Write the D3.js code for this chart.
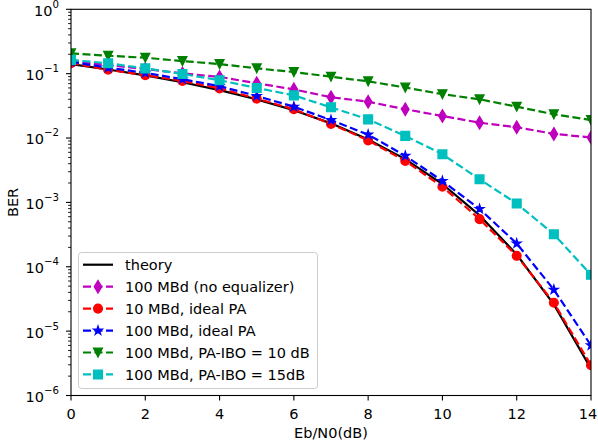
<!DOCTYPE html>
<html>
<head>
<meta charset="utf-8">
<script src="https://cdn.jsdelivr.net/npm/d3@7"></script>
<style>
  html, body { margin: 0; padding: 0; background: #fff; }
  svg { display: block; font-family: "DejaVu Sans", sans-serif; }
  .tick-label { font-size: 14.5px; fill: #000; }
  .axis-title { font-size: 14.5px; fill: #000; }
  .legend-label { font-size: 14.5px; fill: #000; }
</style>
</head>
<body>
<svg id="chart" width="598" height="446"></svg>
<script>
// Eb/N0 points (dB)
const ebn0 = [0, 1, 2, 3, 4, 5, 6, 7, 8, 9, 10, 11, 12, 13, 14];

// BER curves
const theory = [0.141, 0.116, 0.094, 0.0735, 0.0556, 0.0399, 0.0270, 0.0169, 0.0095, 0.0047, 0.00193, 6.3e-4, 1.55e-4, 2.6e-5, 2.6e-6];
const noEqualizer = [0.156, 0.136, 0.118, 0.101, 0.089, 0.071, 0.057, 0.043, 0.0367, 0.028, 0.022, 0.0173, 0.0147, 0.0116, 0.0102];
const idealPa10 = [0.146, 0.115, 0.095, 0.077, 0.059, 0.041, 0.028, 0.0166, 0.0092, 0.0044, 0.00175, 5.5e-4, 1.48e-4, 2.76e-5, 2.95e-6];
const idealPa100 = [0.153, 0.124, 0.103, 0.082, 0.064, 0.045, 0.0307, 0.019, 0.0113, 0.0053, 0.00215, 7.9e-4, 2.3e-4, 4.4e-5, 6.0e-6];
const ibo10 = [0.207, 0.19, 0.177, 0.157, 0.141, 0.121, 0.106, 0.0897, 0.076, 0.061, 0.048, 0.04, 0.0307, 0.0234, 0.019];
const ibo15 = [0.163, 0.145, 0.121, 0.099, 0.079, 0.06, 0.046, 0.030, 0.0195, 0.0108, 0.0056, 0.00229, 9.6e-4, 3.2e-4, 7.5e-5];

const xTicks = [0, 2, 4, 6, 8, 10, 12, 14];
const yDecades = [-6, -5, -4, -3, -2, -1, 0];

const series = [
  { name: 'theory', values: theory, color: '#000000', dashed: false, marker: null },
  { name: '100 MBd (no equalizer)', values: noEqualizer, color: '#bf00bf', dashed: true, marker: 'diamond' },
  { name: '10 MBd, ideal PA', values: idealPa10, color: '#ff0000', dashed: true, marker: 'circle' },
  { name: '100 MBd, ideal PA', values: idealPa100, color: '#0000ff', dashed: true, marker: 'star' },
  { name: '100 MBd, PA-IBO = 10 dB', values: ibo10, color: '#008000', dashed: true, marker: 'triangleDown' },
  { name: '100 MBd, PA-IBO = 15dB', values: ibo15, color: '#00bfbf', dashed: true, marker: 'square' },
];

const margin = { left: 71, right: 7, top: 9.3, bottom: 50.5 };
const W = 598, H = 446;
const plotW = W - margin.left - margin.right;
const plotH = H - margin.top - margin.bottom;

const LINE_W = 2.2;
const DASH = '8,3.5';
const EDGE_W = 1.4;

const svg = d3.select('#chart');

const x = d3.scaleLinear().domain([0, 14]).range([margin.left, margin.left + plotW]);
const y = d3.scaleLog().domain([1e-6, 1]).range([margin.top + plotH, margin.top]);

/** Marker path in pixel units centred on 0,0. */
function markerPath(type) {
  switch (type) {
    case 'circle':
      return d3.symbol(d3.symbolCircle, Math.PI * 4.35 * 4.35)();
    case 'square':
      return 'M-4.35,-4.35H4.35V4.35H-4.35Z';
    case 'diamond':
      return 'M0,-6.15L3.7,0L0,6.15L-3.7,0Z';
    case 'triangleDown':
      return 'M0,4.35L-4.35,-4.35L4.35,-4.35Z';
    case 'star':
      return d3.symbol(d3.symbolStar, 21.5)();
    default:
      return '';
  }
}

// clip to the axes
svg.append('defs').append('clipPath').attr('id', 'plot-clip')
  .append('rect')
  .attr('x', margin.left).attr('y', margin.top)
  .attr('width', plotW).attr('height', plotH);

// Curves
const line = d3.line()
  .x((d, i) => x(ebn0[i]))
  .y((d) => y(d));

const curves = svg.append('g').attr('clip-path', 'url(#plot-clip)');

series.forEach((s) => {
  curves.append('path')
    .attr('d', line(s.values))
    .attr('fill', 'none')
    .attr('stroke', s.color)
    .attr('stroke-width', LINE_W)
    .attr('stroke-dasharray', s.dashed ? DASH : null);

  if (s.marker) {
    curves.append('g')
      .selectAll('path')
      .data(s.values)
      .join('path')
      .attr('d', markerPath(s.marker))
      .attr('transform', (d, i) => `translate(${x(ebn0[i])},${y(d)})`)
      .attr('fill', s.color)
      .attr('stroke', s.color)
      .attr('stroke-width', EDGE_W);
  }
});

// Spines
svg.append('rect')
  .attr('x', margin.left).attr('y', margin.top)
  .attr('width', plotW).attr('height', plotH)
  .attr('fill', 'none')
  .attr('stroke', '#000')
  .attr('stroke-width', 1.1);

// X axis
const xAxis = svg.append('g');
xTicks.forEach((t) => {
  xAxis.append('line')
    .attr('x1', x(t)).attr('x2', x(t))
    .attr('y1', margin.top + plotH).attr('y2', margin.top + plotH + 5)
    .attr('stroke', '#000').attr('stroke-width', 1.1);
  // keep the last label inside the window
  xAxis.append('text')
    .attr('class', 'tick-label')
    .attr('x', Math.min(x(t), W - 10))
    .attr('y', margin.top + plotH + 23)
    .attr('text-anchor', 'middle')
    .text(t);
});

// Y axis (log, with minor ticks)
const yAxis = svg.append('g');
yDecades.forEach((p) => {
  const v = Math.pow(10, p);
  yAxis.append('line')
    .attr('x1', margin.left - 5).attr('x2', margin.left)
    .attr('y1', y(v)).attr('y2', y(v))
    .attr('stroke', '#000').attr('stroke-width', 1.1);
  const label = yAxis.append('text')
    .attr('class', 'tick-label')
    .attr('x', margin.left - 12)
    .attr('y', y(v) + 6.4)
    .attr('text-anchor', 'end');
  label.append('tspan').text('10');
  label.append('tspan')
    .attr('dy', -8)
    .attr('font-size', '10.2px')
    .text(p === 0 ? '0' : '\u2212' + Math.abs(p));

  if (p < 0) {
    for (let m = 2; m <= 9; m++) {
      const mv = m * v;
      yAxis.append('line')
        .attr('x1', margin.left - 2.9).attr('x2', margin.left)
        .attr('y1', y(mv)).attr('y2', y(mv))
        .attr('stroke', '#000').attr('stroke-width', 0.9);
    }
  }
});

// Axis titles
svg.append('text')
  .attr('class', 'axis-title')
  .attr('x', margin.left + plotW / 2)
  .attr('y', 437.5)
  .attr('text-anchor', 'middle')
  .text('Eb/N0(dB)');

svg.append('text')
  .attr('class', 'axis-title')
  .attr('transform', `translate(18,${margin.top + plotH / 2}) rotate(-90)`)
  .attr('text-anchor', 'middle')
  .text('BER');

// Legend
const legend = svg.append('g');
legend.append('rect')
  .attr('x', 78.5).attr('y', 252.5)
  .attr('width', 239).attr('height', 136)
  .attr('rx', 3)
  .attr('fill', 'rgba(255,255,255,0.8)')
  .attr('stroke', '#cccccc')
  .attr('stroke-width', 1);

series.forEach((s, i) => {
  const cy = 264.7 + i * 21.95;
  legend.append('line')
    .attr('x1', 83).attr('x2', 113)
    .attr('y1', cy).attr('y2', cy)
    .attr('stroke', s.color)
    .attr('stroke-width', LINE_W)
    .attr('stroke-dasharray', s.dashed ? DASH : null);
  if (s.marker) {
    legend.append('path')
      .attr('d', markerPath(s.marker))
      .attr('transform', `translate(98,${cy})`)
      .attr('fill', s.color)
      .attr('stroke', s.color)
      .attr('stroke-width', EDGE_W);
  }
  legend.append('text')
    .attr('class', 'legend-label')
    .attr('x', 125)
    .attr('y', cy + 5.2)
    .text(s.name);
});
</script>
</body>
</html>
